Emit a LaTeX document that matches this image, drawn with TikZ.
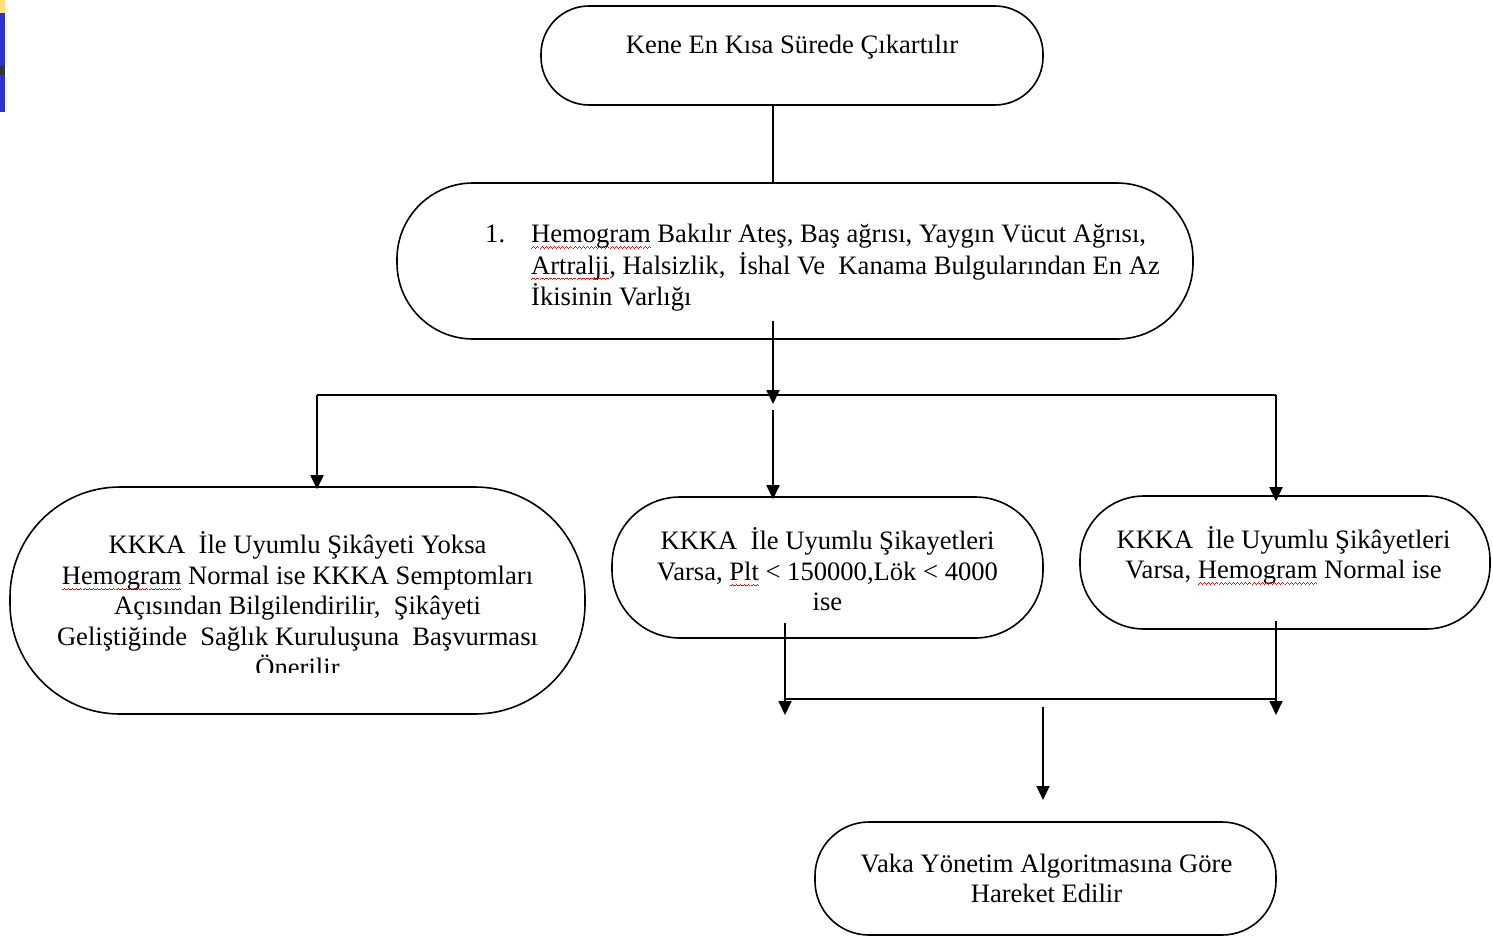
\documentclass[tikz,border=0pt]{standalone}
\usepackage{fontspec}
\setmainfont{Liberation Serif}
\usetikzlibrary{arrows.meta}
\definecolor{barYellow}{HTML}{FFE07A}
\definecolor{barBlue}{HTML}{3030CC}
\definecolor{barDark}{HTML}{333333}
\newsavebox\swbox
\newcommand\waveunit{\hbox{\rule[-3.0pt]{0.5pt}{0.45pt}\rule[-2.6pt]{0.5pt}{0.45pt}\rule[-2.2pt]{0.5pt}{0.45pt}\rule[-2.6pt]{0.5pt}{0.45pt}}}
\newcommand\sw[1]{\leavevmode\sbox\swbox{#1}\rlap{\color{red}\hbox to \wd\swbox{\xleaders\waveunit\hfil}}\usebox\swbox}
\newcommand\Tstart{\begin{tabular}{@{}c@{}}Kene En Kısa Sürede Çıkartılır\end{tabular}}
\newcommand\Themo{\begin{tabular}{@{}l@{\hspace{13pt}}l@{}}1. & \sw{Hemogram} Bakılır Ateş, Baş ağrısı, Yaygın Vücut Ağrısı,\\ & \sw{Artralji}, Halsizlik,\ \ İshal Ve\ \ Kanama Bulgularından En Az\\ & İkisinin Varlığı\end{tabular}}
\newcommand\Tleft{\begin{tabular}{@{}c@{}}KKKA\ \ İle Uyumlu Şikâyeti Yoksa\\ \sw{Hemogram} Normal ise KKKA Semptomları\\ Açısından Bilgilendirilir,\ \ Şikâyeti\\ Geliştiğinde\ \ Sağlık Kuruluşuna\ \ Başvurması\\ Önerilir\end{tabular}}
\newcommand\Tmid{\begin{tabular}{@{}c@{}}KKKA\ \ İle Uyumlu Şikayetleri\\ Varsa, \sw{Plt} < 150000,Lök < 4000\\ ise\end{tabular}}
\newcommand\Tright{\begin{tabular}{@{}c@{}}KKKA\ \ İle Uyumlu Şikâyetleri\\ Varsa, \sw{Hemogram} Normal ise\end{tabular}}
\newcommand\Tvaka{\begin{tabular}{@{}c@{}}Vaka Yönetim Algoritmasına Göre\\ Hareket Edilir\end{tabular}}
\begin{document}
\begin{tikzpicture}[x=0.5pt,y=-0.5pt,
  font=\fontsize{13.3}{15.3}\selectfont,
  term/.style={draw=black, line width=0.8pt, rounded corners=#1, inner sep=0pt},
  con/.style={draw=black, line width=0.9pt},
  arr/.style={con, -{Triangle[length=7pt,width=6.5pt]}},
  txt/.style={inner sep=0pt}]
\useasboundingbox (0,0) rectangle (1493,937);
% corner bars
\fill[barYellow] (0,0) rectangle (5,13);
\fill[barBlue] (0,13) rectangle (5,66);
\fill[barDark] (0,66) rectangle (5,75);
\fill[barBlue] (0,75) rectangle (5,112);
% nodes
\node[term=24pt, minimum width=251pt, minimum height=49.5pt,
  label={[txt, yshift=4.25pt]center:\Tstart}] (start) at (792,55.5) {};
\node[term=38pt, minimum width=398pt, minimum height=78pt,
  label={[txt, xshift=13.75pt, yshift=-3.5pt]center:\Themo}] (hemo) at (795,261) {};
\node[term=55pt, minimum width=287.5pt, minimum height=113.5pt] (left) at (297.5,600.5) {};
\begin{scope}
  \clip (0,0) rectangle (1493,672.5);
  \node[txt] (leftText) at ([yshift=-4pt]left.center) {\Tleft};
\end{scope}
\node[term=34pt, minimum width=215.5pt, minimum height=70.5pt,
  label={[txt, yshift=-3.25pt]center:\Tmid}] (mid) at (827.5,567.5) {};
\node[term=32pt, minimum width=205pt, minimum height=66.5pt,
  label={[txt, xshift=-0.75pt, yshift=2.75pt]center:\Tright}] (right) at (1285,562.5) {};
\node[term=27pt, minimum width=230.5pt, minimum height=56.5pt,
  label={[txt, xshift=0.5pt, yshift=-1.5pt]center:\Tvaka}] (vaka) at (1045.5,878.5) {};
% junction coordinates
\coordinate (hx) at (773,0);
\coordinate (tB) at (773,404);
\coordinate (busL) at (317,395);
\coordinate (busR) at (1276,395);
\coordinate (mA) at (773,410);
\coordinate (mx) at (785,0);
\coordinate (jL) at (785,699);
\coordinate (jR) at (1276,699);
\coordinate (mTip) at (785,715);
\coordinate (rTip) at (1276,715);
\coordinate (vA) at (1043,707);
\coordinate (vTip) at (1043,800);
% connectors
\draw[con] (start.south -| hx) -- (hemo.north -| hx);
\draw[arr] ([yshift=9.5pt]hemo.south -| hx) -- (tB);
\draw[con] (busL) -- (busR);
\draw[arr] (busL) -- ([yshift=-1.5pt]busL |- left.north);
\draw[arr] (mA) -- ([yshift=-1.5pt]mA |- mid.north);
\draw[arr] (busR) -- ([yshift=-3pt]busR |- right.north);
\draw[arr] ([yshift=8pt]mid.south -| mx) -- (mTip);
\draw[arr] ([yshift=4.5pt]right.south -| rTip) -- (rTip);
\draw[con] (jL) -- (jR);
\draw[arr] (vA) -- (vTip);
\end{tikzpicture}
\end{document}
